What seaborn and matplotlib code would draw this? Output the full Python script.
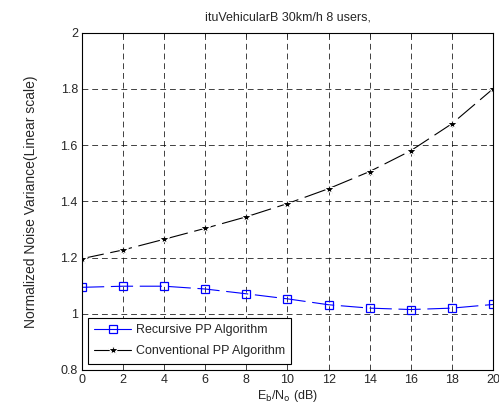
import pandas as pd
import matplotlib
matplotlib.use("Agg")
import matplotlib.pyplot as plt
import seaborn as sns

# Eb/No values (dB)
snr_db = [0, 2, 4, 6, 8, 10, 12, 14, 16, 18, 20]
# Normalized noise variance per algorithm
recursive_pp = [1.094, 1.098, 1.098, 1.088, 1.071, 1.053, 1.032, 1.020, 1.015, 1.020, 1.033]
conventional_pp = [1.196, 1.227, 1.265, 1.304, 1.345, 1.392, 1.445, 1.506, 1.580, 1.676, 1.800]

x_ticks = [0, 2, 4, 6, 8, 10, 12, 14, 16, 18, 20]
y_ticks = [0.8, 1.0, 1.2, 1.4, 1.6, 1.8, 2.0]
y_labels = ["0.8", "1", "1.2", "1.4", "1.6", "1.8", "2"]

sns.set_style("white")
plt.rcParams["font.family"] = ["Liberation Sans", "DejaVu Sans"]
plt.rcParams["xtick.direction"] = "in"
plt.rcParams["ytick.direction"] = "in"

df = pd.DataFrame({"snr": snr_db, "rec": recursive_pp, "conv": conventional_pp})

fig = plt.figure(figsize=(4.99, 4.07), dpi=100)
ax = fig.add_axes([0.1643, 0.0910, 0.8236, 0.8287])

sns.lineplot(data=df, x="snr", y="rec", ax=ax, color="#0000ff", lw=0.8,
             marker="s", markersize=5.5, markerfacecolor="none",
             markeredgecolor="#0000ff", markeredgewidth=0.9,
             label="Recursive PP Algorithm")
sns.lineplot(data=df, x="snr", y="conv", ax=ax, color="black", lw=0.8,
             marker="*", markersize=8, markeredgewidth=0.8,
             label="Conventional PP Algorithm")
for ln in ax.lines:
    ln.set_dashes([20, 6])

ax.set_xlim(0, 20)
ax.set_ylim(0.8, 2.0)
ax.set_xticks(x_ticks)
ax.set_yticks(y_ticks)
ax.set_yticklabels(y_labels)
ax.tick_params(labelsize=9, length=3, width=0.6, top=True, right=True, pad=3)
ax.grid(True, color="black", linestyle=(0, (6, 4)), lw=0.7, alpha=0.75)
for s in ax.spines.values():
    s.set_color("black")
    s.set_linewidth(0.8)

ax.set_title("ituVehicularB 30km/h 8 users,", fontsize=9, pad=9)
ax.set_xlabel(r"E$_\mathrm{b}$/N$_\mathrm{o}$ (dB)", fontsize=9, labelpad=1)
ax.set_ylabel("Normalized Noise Variance(Linear scale)", fontsize=10, labelpad=16)

leg = ax.legend(loc="lower left", fontsize=9, frameon=True, fancybox=False,
                edgecolor="black", framealpha=1, borderaxespad=0.5,
                handlelength=2.9, handletextpad=0.4, borderpad=0.5,
                labelspacing=0.75)
leg.get_frame().set_linewidth(0.8)
for h in leg.get_lines():
    h.set_dashes([])

fig.savefig("out.png", dpi=100)
